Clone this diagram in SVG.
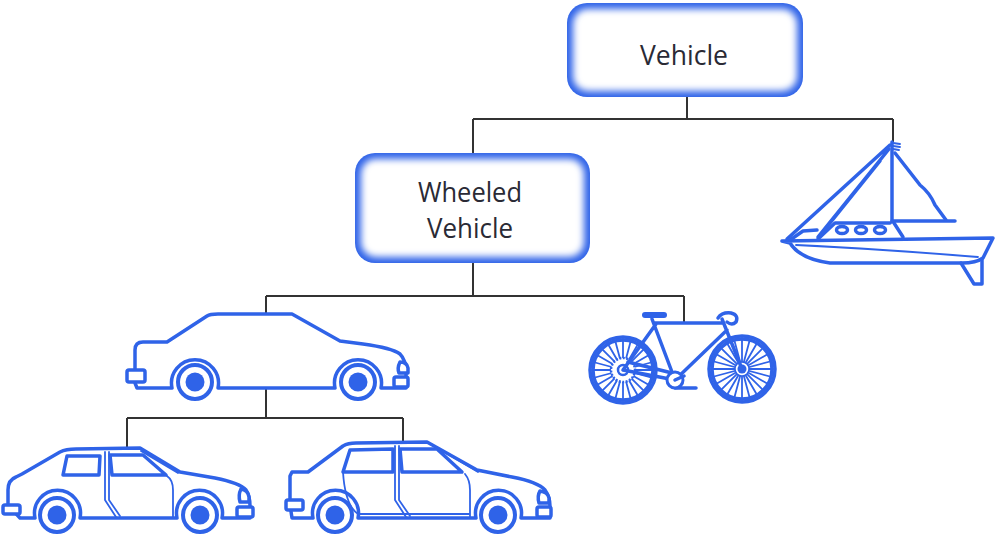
<svg xmlns="http://www.w3.org/2000/svg" width="1000" height="540" viewBox="0 0 1000 540">
<style>
.conn{fill:none;stroke:#333;stroke-width:2}
.b{fill:none;stroke:#2f63e8;stroke-width:3.5;stroke-linejoin:round;stroke-linecap:round}
.bw{fill:#fff;stroke:#2f63e8;stroke-width:3.5;stroke-linejoin:round;stroke-linecap:round}
.bt{fill:none;stroke:#2f63e8;stroke-width:1.8;stroke-linecap:round;stroke-linejoin:round}
.lbl{font-family:"Open Sans","Noto Sans",sans-serif;font-size:28px;fill:#2a2a35;text-anchor:middle}
</style>
<defs>
<filter id="soft" x="-10%" y="-10%" width="120%" height="120%"><feGaussianBlur stdDeviation="3.5"/></filter>
<g id="spokes" class="bt">
<line x1="-31" y1="0" x2="31" y2="0"/>
<line x1="-29.9" y1="-8" x2="29.9" y2="8"/>
<line x1="-26.8" y1="-15.5" x2="26.8" y2="15.5"/>
<line x1="-21.9" y1="-21.9" x2="21.9" y2="21.9"/>
<line x1="-15.5" y1="-26.8" x2="15.5" y2="26.8"/>
<line x1="-8" y1="-29.9" x2="8" y2="29.9"/>
<line x1="0" y1="-31" x2="0" y2="31"/>
<line x1="8" y1="-29.9" x2="-8" y2="29.9"/>
<line x1="15.5" y1="-26.8" x2="-15.5" y2="26.8"/>
<line x1="21.9" y1="-21.9" x2="-21.9" y2="21.9"/>
<line x1="26.8" y1="-15.5" x2="-26.8" y2="15.5"/>
<line x1="29.9" y1="-8" x2="-29.9" y2="8"/>
</g>
<g id="wheel">
<circle r="17" fill="#fff" stroke="#2f63e8" stroke-width="4"/>
<circle r="9.5" fill="#2f63e8"/>
</g>
</defs>
<rect width="1000" height="540" fill="#fff"/>

<g id="connectors">
<path class="conn" d="M687 97V119M473 119H893M473 119V153M893 119V142"/>
<path class="conn" d="M473 263V296M266 296H684M266 296V314M684 296V322"/>
<path class="conn" d="M266 388V418M127 418H403M127 418V448M403 418V443"/>
</g>

<g id="vehicle">
<rect x="567" y="3" width="236" height="94" rx="20" fill="#2f63e8"/>
<rect x="573" y="9" width="224" height="82" rx="15" fill="#fff" filter="url(#soft)"/>
<text class="lbl" x="684" y="65" textLength="88" lengthAdjust="spacingAndGlyphs">Vehicle</text>
</g>

<g id="wheeled-vehicle">
<rect x="355" y="153" width="235" height="110" rx="20" fill="#2f63e8"/>
<rect x="361" y="159" width="223" height="98" rx="15" fill="#fff" filter="url(#soft)"/>
<text class="lbl" x="470" y="202" textLength="104" lengthAdjust="spacingAndGlyphs">Wheeled</text>
<text class="lbl" x="470" y="238" textLength="86" lengthAdjust="spacingAndGlyphs">Vehicle</text>
</g>

<g id="boat">
<path class="bw" d="M782 241L993 238L983 258Q976 263 962 263L830 263Q800 259 790 243Z"/>
<path class="b" d="M961 263L974 284L982 284L982 260"/>
<path class="bt" stroke-width="2" d="M796 245Q880 249 978 257"/>
<path class="b" d="M818 239L835 223L890 223M894 223L903 237"/>
<ellipse class="b" stroke-width="2" cx="842" cy="230" rx="5.5" ry="3.5"/>
<ellipse class="b" stroke-width="2" cx="861" cy="230" rx="5.5" ry="3.5"/>
<ellipse class="b" stroke-width="2" cx="880" cy="230" rx="5.5" ry="3.5"/>
<path class="b" d="M790 240L803 231L817 230"/>
<path class="b" d="M892 142V222"/>
<path class="bt" stroke-width="1.5" d="M893 143L900 144M893 146L900 147M893 149L899 150"/>
<path class="b" stroke-width="2.5" d="M890 145L787 239M889 149L818 237M880 161L822 233"/>
<path class="b" stroke-width="2.5" d="M895 153L920 185Q930 193 935 205L946 220"/>
<path class="b" stroke-width="4" d="M892 221H955"/>
</g>

<g id="bicycle">
<use href="#spokes" transform="translate(623 370)"/>
<circle class="b" cx="623" cy="370" r="33"/>
<circle class="b" cx="623" cy="370" r="30" stroke-width="1.5"/>
<circle cx="623" cy="370" r="12" fill="#fff" stroke="#2f63e8" stroke-width="2.5" stroke-dasharray="2 1.5"/>
<circle cx="623" cy="370" r="5" fill="#fff" stroke="#2f63e8" stroke-width="2.5"/>
<use href="#spokes" transform="translate(742 369)"/>
<circle class="b" cx="742" cy="369" r="33"/>
<circle class="b" cx="742" cy="369" r="30" stroke-width="1.5"/>
<circle cx="742" cy="369" r="7" fill="#fff" stroke="#2f63e8" stroke-width="1.5"/>
<circle cx="742" cy="369" r="4.5" fill="#2f63e8"/>
<path class="b" stroke-width="4" d="M623 370L675 380L652 319M623 370L656 324M655 323H722M675 380L727 330M722 319L742 369"/>
<path class="b" stroke-width="2" d="M628 362L672 373M675 388H696"/>
<circle cx="675" cy="380" r="8" fill="#fff" stroke="#2f63e8" stroke-width="3"/>
<path class="b" stroke-width="2.5" d="M675 380L684 376"/>
<rect x="642" y="312" width="25" height="6" rx="3" fill="#2f63e8"/>
<path class="b" d="M718 318Q722 312 731 313Q739 315 736 322Q732 326 727 322"/>
</g>

<g id="car-sedan">
<path class="bw" d="M143 342L167 342L207 316Q210 314 218 314L292 314L340 341L363 344Q392 348 400 354Q406 360 406 372L406 388L381 388A23.5 23.5 0 1 0 335 388L218 388A23.5 23.5 0 1 0 172 388L137 388L135 383L135 350Q135 342 143 342Z"/>
<rect class="bw" x="127" y="370" width="18" height="12" rx="2"/>
<rect class="bw" x="394" y="377" width="14" height="10" rx="2"/>
<path class="bw" d="M400 362Q407 362 408 368L408 373L399 373Q397 368 400 362Z"/>
<use href="#wheel" x="195" y="382"/>
<use href="#wheel" x="358" y="382"/>
</g>

<g id="car-hatch">
<path class="bw" d="M8 505L8 490Q8 480 16 477L22 474L60 452Q66 449 76 449L140 448L180 472L215 478Q240 483 246 490Q250 496 250 506L250 518L222 518A23 23 0 1 0 177 518L80 518A23 23 0 1 0 35 518L20 518Z"/>
<path class="bw" d="M67 456L100 456L99 475L63 475Z"/>
<path class="bw" d="M110 455L143 455L166 475L112 475Z"/>
<path class="bt" d="M105 452V500L116 517M109 452V500L120 516M167 476Q173 480 173 490V517M141 451L178 473"/>
<rect class="bw" x="3" y="505" width="17" height="9" rx="2"/>
<rect class="bw" x="237" y="507" width="16" height="10" rx="2"/>
<path class="bw" d="M241 489Q248 490 249 497L249 502L240 502Q238 495 241 489Z"/>
<use href="#wheel" x="57" y="515"/>
<use href="#wheel" x="200" y="515"/>
</g>

<g id="car-saloon">
<path class="bw" d="M290 505L290 476L292 472L308 472L343 446Q348 443 356 443L427 442L477 470L512 477Q538 482 545 490Q550 497 550 506L550 518L521 518A23 23 0 1 0 476 518L358 518A23 23 0 1 0 313 518L292 518Z"/>
<path class="bw" d="M350 450L393 449L393 472L343 472Z"/>
<path class="bw" d="M400 449L437 449L462 472L402 472Z"/>
<path class="bt" d="M395 446V500L406 517M399 446V500L410 516M465 474Q470 480 470 490V517M343 472Q345 505 358 514M436 447L478 472M359 514H470"/>
<rect class="bw" x="286" y="500" width="17" height="10" rx="2"/>
<rect class="bw" x="537" y="507" width="14" height="10" rx="2"/>
<path class="bw" d="M540 491Q548 492 549 498L549 503L539 503Q537 496 540 491Z"/>
<use href="#wheel" x="335" y="515"/>
<use href="#wheel" x="498" y="515"/>
</g>
</svg>
